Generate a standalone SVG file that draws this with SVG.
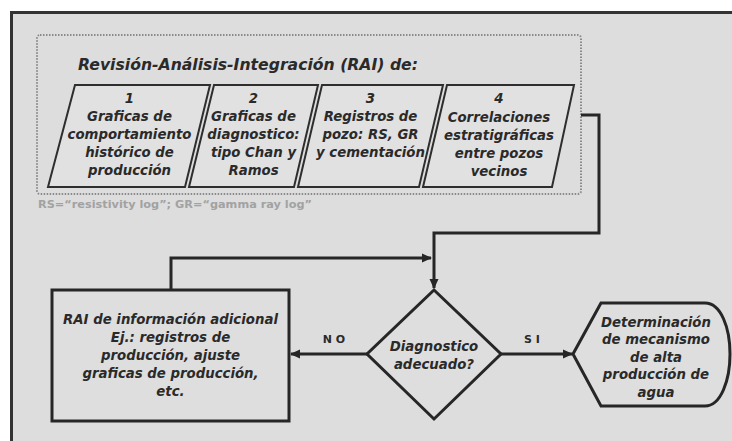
<svg xmlns="http://www.w3.org/2000/svg" width="732" height="441" viewBox="0 0 732 441">
<defs>
<style>
.t{font-family:"DejaVu Sans","Verdana",sans-serif;font-weight:bold;font-style:italic;font-size:13.3px;fill:#2a2a2a;text-anchor:middle}
.title{font-family:"DejaVu Sans","Verdana",sans-serif;font-weight:bold;font-style:italic;font-size:15.5px;fill:#2a2a2a}
.lbl{font-family:"DejaVu Sans","Verdana",sans-serif;font-weight:bold;font-size:11px;fill:#2a2a2a;text-anchor:middle}
.note{font-family:"DejaVu Sans","Verdana",sans-serif;font-weight:bold;font-size:11px;fill:#a2a2a2}
.par{fill:#e1e1e1;stroke:#2e2e2e;stroke-width:2}
.shape{fill:#dedede;stroke:#262626;stroke-width:3}
.conn{fill:none;stroke:#262626;stroke-width:3}
</style>
<marker id="ah" markerWidth="10" markerHeight="10" refX="9" refY="5" orient="auto" markerUnits="userSpaceOnUse">
<path d="M0,0.5 L10,5 L0,9.5 Z" fill="#262626"/>
</marker>
</defs>
<rect x="0" y="0" width="732" height="441" fill="#ffffff"/>
<rect x="11" y="12" width="721" height="429" fill="#dddddd"/>
<path d="M11.5,441 V12.5 H732" fill="none" stroke="#333333" stroke-width="3"/>

<g id="rai-group">
<rect x="37" y="35" width="544" height="159" rx="3" fill="none" stroke="#8a8a8a" stroke-width="2" stroke-dasharray="1.5 1.5"/>
<text class="title" x="78" y="70" textLength="340" lengthAdjust="spacingAndGlyphs">Revisión-Análisis-Integración (RAI) de:</text>
<text class="note" x="38" y="208" textLength="274" lengthAdjust="spacingAndGlyphs">RS=“resistivity log”; GR=“gamma ray log”</text>
</g>

<g id="box1">
<path class="par" d="M75,85 L210,85 L185,187 L48,187 Z"/>
<text class="t" x="129.5" y="103">1</text>
<text class="t" x="129.5" y="121">Graficas de</text>
<text class="t" x="129.5" y="139">comportamiento</text>
<text class="t" x="129.5" y="157">histórico de</text>
<text class="t" x="129.5" y="175">producción</text>
</g>
<g id="box2">
<path class="par" d="M214,85 L318,85 L294,187 L189,187 Z"/>
<text class="t" x="253.5" y="103">2</text>
<text class="t" x="253.5" y="121">Graficas de</text>
<text class="t" x="253.5" y="139">diagnostico:</text>
<text class="t" x="253.5" y="157">tipo Chan y</text>
<text class="t" x="253.5" y="175">Ramos</text>
</g>
<g id="box3">
<path class="par" d="M322,85 L443,85 L419,187 L298,187 Z"/>
<text class="t" x="370.5" y="103">3</text>
<text class="t" x="370.5" y="121">Registros de</text>
<text class="t" x="370.5" y="139">pozo: RS, GR</text>
<text class="t" x="370.5" y="157">y cementación</text>
</g>
<g id="box4">
<path class="par" d="M447,85 L574,85 L552,187 L423,187 Z"/>
<text class="t" x="499" y="103">4</text>
<text class="t" x="499" y="122">Correlaciones</text>
<text class="t" x="499" y="140">estratigráficas</text>
<text class="t" x="499" y="158">entre pozos</text>
<text class="t" x="499" y="176">vecinos</text>
</g>

<g id="rai-adicional">
<rect class="shape" x="52" y="290" width="237" height="131"/>
<text class="t" x="170.5" y="324">RAI de información adicional</text>
<text class="t" x="170.5" y="342">Ej.: registros de</text>
<text class="t" x="170.5" y="360">producción, ajuste</text>
<text class="t" x="170.5" y="378">graficas de producción,</text>
<text class="t" x="170.5" y="396">etc.</text>
</g>

<g id="diagnostico">
<path class="shape" d="M434,290 L501,354 L434,419 L367,354 Z"/>
<text class="t" x="434" y="351">Diagnostico</text>
<text class="t" x="434" y="369">adecuado?</text>
</g>

<g id="determinacion">
<path class="shape" d="M573,354 L601,303 L705,303 C721,303 730,328 730,354 C730,380 721,406 705,406 L601,406 Z"/>
<text class="t" x="656" y="327">Determinación</text>
<text class="t" x="656" y="344">de mecanismo</text>
<text class="t" x="656" y="362">de alta</text>
<text class="t" x="656" y="379">producción de</text>
<text class="t" x="656" y="397">agua</text>
</g>

<g id="connectors">
<path class="conn" d="M581,115 H599 V233 H434 V288" marker-end="url(#ah)"/>
<path class="conn" d="M171,290 V258 H431" marker-end="url(#ah)"/>
<path class="conn" d="M367,354 H291" marker-end="url(#ah)"/>
<path class="conn" d="M501,354 H572" marker-end="url(#ah)"/>
<text class="lbl" x="334" y="343">N O</text>
<text class="lbl" x="532" y="343">S I</text>
</g>
</svg>
